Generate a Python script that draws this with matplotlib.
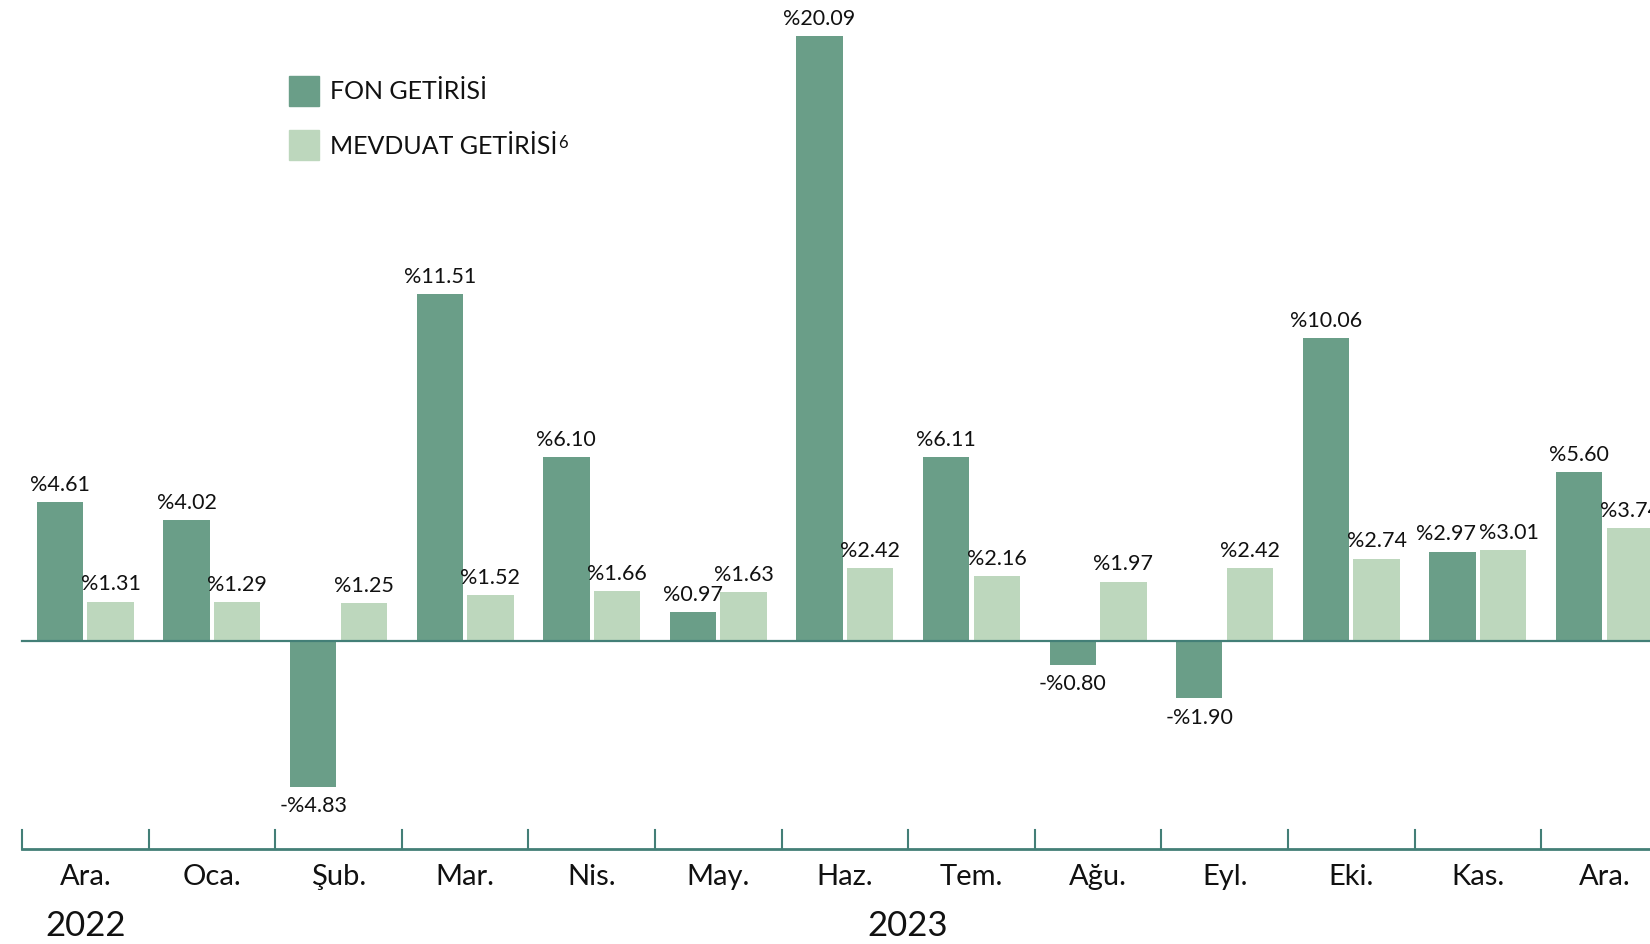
import numpy as np
import matplotlib.pyplot as plt
from matplotlib.patches import Rectangle
from matplotlib.transforms import blended_transform_factory

plt.rcParams["font.family"] = ["Lato", "DejaVu Sans"]

months = ["Ara.", "Oca.", "Şub.", "Mar.", "Nis.", "May.", "Haz.",
          "Tem.", "Ağu.", "Eyl.", "Eki.", "Kas.", "Ara."]
years = ["2022", "2023"]
year_groups = [[0], list(range(1, 13))]
fon = [4.61, 4.02, -4.83, 11.51, 6.10, 0.97, 20.09, 6.11, -0.80, -1.90, 10.06, 2.97, 5.60]
mevduat = [1.31, 1.29, 1.25, 1.52, 1.66, 1.63, 2.42, 2.16, 1.97, 2.42, 2.74, 3.01, 3.74]
legend_labels = ["FON GETİRİSİ", "MEVDUAT GETİRİSİ"]

DARK = "#6a9e88"
LIGHT = "#bdd7bd"
LINE = "#437f77"
TXT = "#111111"


def fmt(v):
    return ("-%" if v < 0 else "%") + f"{abs(v):.2f}"


fig = plt.figure(figsize=(16.5, 9.45), dpi=100)
ax = fig.add_axes([0, 0, 1, 1])
ax.set_xlim(-0.674, 12.36)
ax.set_ylim(-10.06, 21.32)
ax.axis("off")

x = np.arange(len(months))
w = 0.366
off = 0.2
b1 = ax.bar(x - off, fon, w, color=DARK, zorder=2)
b2 = ax.bar(x + off, mevduat, w, color=LIGHT, zorder=2)

for side, bars, vals in ((-1, b1, fon), (1, b2, mevduat)):
    for i, (rect, v) in enumerate(zip(bars, vals)):
        cx = rect.get_x() + rect.get_width() / 2
        # labels of near-equal pairs would touch: push them apart a bit
        dx = 0
        if fon[i] > 0 and abs(fon[i] - mevduat[i]) < 0.5:
            dx = 4.5 * side
        if v >= 0:
            ax.annotate(fmt(v), (cx, v), xytext=(dx, 6), textcoords="offset points",
                        ha="center", va="bottom", fontsize=15.5, color=TXT)
        else:
            ax.annotate(fmt(v), (cx, v), xytext=(dx, -6), textcoords="offset points",
                        ha="center", va="top", fontsize=15.5, color=TXT)

# zero line
ax.plot([-0.5, 13], [0, 0], color=LINE, lw=1.6, zorder=3, clip_on=False)

# bottom month axis
tr = blended_transform_factory(ax.transData, ax.transAxes)
ax.plot([-0.5, 13], [0.1005, 0.1005], color=LINE, lw=2, transform=tr)
for b in np.arange(-0.5, 13, 1.0):
    ax.plot([b, b], [0.1005, 0.1206], color=LINE, lw=1.5, transform=tr)
for i, m in enumerate(months):
    ax.text(i, 0.072, m, transform=tr, ha="center", va="center", fontsize=21, color=TXT)
for y, grp in zip(years, year_groups):
    ax.text(np.mean(grp), 0.020, y, transform=tr, ha="center", va="center",
            fontsize=25, color=TXT)

# legend
for k, (lab, col) in enumerate(zip(legend_labels, [DARK, LIGHT])):
    y0 = 1 - (107 + 54 * k) / 945
    fig.patches.append(Rectangle((289 / 1650, y0), 30 / 1650, 30 / 945,
                                 transform=fig.transFigure, color=col))
    t = fig.text(330 / 1650, y0 + 15 / 945, lab, ha="left", va="center",
                 fontsize=18, color=TXT)
    if k == 1:
        ax.annotate("6", xy=(1, 1), xycoords=t, xytext=(0.5, 0),
                    textcoords="offset points", ha="left", va="top",
                    fontsize=12, color=TXT)

fig.savefig("out.png", dpi=100)
